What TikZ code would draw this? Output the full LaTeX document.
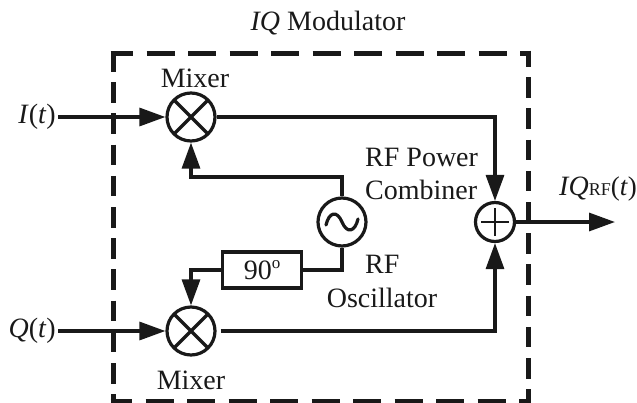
\documentclass[tikz,border=0pt]{standalone}
\usepackage{fontspec}
\setmainfont{Liberation Serif}
\usetikzlibrary{arrows.meta}
\tikzset{
  x=1pt,y=-1pt,
  lbl/.style={font=\fontsize{28}{31}\selectfont,text=black!90,inner sep=0pt,align=center},
  wire/.style={line width=3.2pt,black!90,line join=miter},
  arr/.style={wire,-{Triangle[length=26pt,width=18pt]}},
  boxedge/.style={line width=5pt,black!90},
  hdash/.style={boxedge,dash pattern=on 28pt off 13.5pt},
  vdash/.style={boxedge,dash pattern=on 20.5pt off 10.7pt},
  mix/.style={circle,draw=black!90,line width=3.2pt,minimum size=48pt,inner sep=0pt,
    path picture={\draw[line width=3.2pt,black!90] (path picture bounding box.north west)--(path picture bounding box.south east)
      (path picture bounding box.north east)--(path picture bounding box.south west);}},
  osc/.style={circle,draw=black!90,line width=3.2pt,minimum size=48pt,inner sep=0pt},
  comb/.style={circle,draw=black!90,line width=3.2pt,minimum size=39pt,inner sep=0pt},
  phase/.style={rectangle,draw=black!90,line width=3.2pt,minimum width=79pt,minimum height=36pt,inner sep=0pt}
}
\begin{document}
\begin{tikzpicture}
\useasboundingbox (0,0) rectangle (637,402);
% dashed box
\draw[hdash,dash phase=5.5pt] (110.5,53) -- (530.5,53);
\draw[hdash,dash phase=6.5pt] (110.5,401) -- (530.5,401);
\draw[vdash] (113,51) -- (113,402);
\draw[vdash,dash phase=4.5pt] (528,50.5) -- (528,402);
% blocks
\node[mix] (m1) at (191,117) {};
\node[mix] (m2) at (191,331) {};
\node[osc] (o) at (342,222) {};
\node[comb] (c) at (495,222) {};
\node[phase,lbl] (p) at (262,270) {90\raisebox{0.4em}{\fontsize{17}{17}\selectfont o}};
\draw[line width=2pt,black!90] ([xshift=-14pt]c.center) -- ([xshift=14pt]c.center)
  ([yshift=-14pt]c.center) -- ([yshift=14pt]c.center);
\draw[line width=3.2pt,black!90,line cap=round]
  ([shift={(-16,3)}]o.center)
  .. controls ([shift={(-13,-10)}]o.center) and ([shift={(-5,-12)}]o.center) .. (o.center)
  .. controls ([shift={(5,12)}]o.center) and ([shift={(13,10)}]o.center) .. ([shift={(16,-3)}]o.center);
% labels
\node[lbl] (title) at (328,23) {\textit{IQ} Modulator};
\node[lbl] (mt) at (195,78) {Mixer};
\node[lbl] (mb) at (191,380) {Mixer};
\node[lbl,anchor=east] (i) at (56,117) {\textit{I}(\textit{t})};
\node[lbl,anchor=east] (q) at (56,331) {\textit{Q}(\textit{t})};
\node[lbl,anchor=west] (rfp) at (365,157) {RF Power};
\node[lbl,anchor=west] (rfc) at (365,190) {Combiner};
\node[lbl,anchor=west] (rf) at (365,264) {RF};
\node[lbl] (rfo) at (382,298) {Oscillator};
\node[lbl,anchor=west] (out) at (559,189) {\textit{IQ}\fontsize{18}{18}\selectfont RF\fontsize{27}{31}\selectfont(\textit{t})};
% connectors
\coordinate (ii) at (58,117); \coordinate (qi) at (58,331); \coordinate (oe) at (615,222);
\coordinate (ot) at (342,177);
\draw[arr] (ii) -- (m1.west);
\draw[arr] (qi) -- (m2.west);
\draw[arr] (m1.east) -| (c.north);
\draw[arr] ([xshift=4pt]m2.east) -| (c.south);
\draw[arr] (o.north) -- (ot) -| (m1.south);
\draw[wire] (o.south) |- (p.east);
\draw[arr] (p.west) -| (m2.north);
\draw[arr] (c.east) -- (oe);
\end{tikzpicture}
\end{document}
